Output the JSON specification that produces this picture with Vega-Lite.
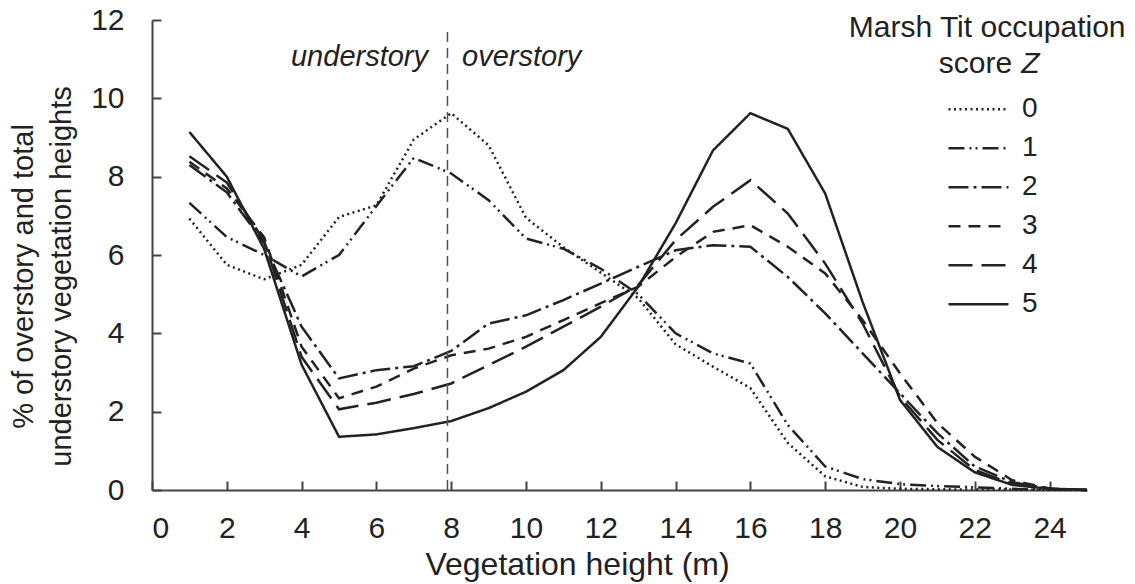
{
  "$schema": "https://vega.github.io/schema/vega-lite/v6.json",
  "width": 935,
  "height": 470,
  "autosize": {"type": "none"},
  "padding": {"left": 152, "top": 20, "right": 48, "bottom": 94},
  "background": "white",
  "config": {
    "font": "Liberation Sans",
    "view": {"stroke": null},
    "axis": {
      "grid": false,
      "domainColor": "#444",
      "domainWidth": 2,
      "tickColor": "#444",
      "tickWidth": 2,
      "labelFont": "Liberation Sans",
      "labelFontSize": 30,
      "labelColor": "#222",
      "titleFont": "Liberation Sans",
      "titleFontSize": 30,
      "titleFontWeight": "normal",
      "titleColor": "#222"
    },
    "legend": {
      "labelFont": "Liberation Sans",
      "labelColor": "#222"
    }
  },
  "datasets": {
    "curves": [
      {"h": 1, "Z": "0", "p": 6.93}, {"h": 2, "Z": "0", "p": 5.75}, {"h": 3, "Z": "0", "p": 5.38}, {"h": 4, "Z": "0", "p": 5.75}, {"h": 5, "Z": "0", "p": 6.97},
      {"h": 6, "Z": "0", "p": 7.27}, {"h": 7, "Z": "0", "p": 8.95}, {"h": 8, "Z": "0", "p": 9.62}, {"h": 9, "Z": "0", "p": 8.8}, {"h": 10, "Z": "0", "p": 6.95},
      {"h": 11, "Z": "0", "p": 6.2}, {"h": 12, "Z": "0", "p": 5.55}, {"h": 13, "Z": "0", "p": 4.9}, {"h": 14, "Z": "0", "p": 3.72}, {"h": 15, "Z": "0", "p": 3.15},
      {"h": 16, "Z": "0", "p": 2.6}, {"h": 17, "Z": "0", "p": 1.2}, {"h": 18, "Z": "0", "p": 0.35}, {"h": 19, "Z": "0", "p": 0.08}, {"h": 20, "Z": "0", "p": 0.03},
      {"h": 21, "Z": "0", "p": 0.02}, {"h": 22, "Z": "0", "p": 0.01}, {"h": 23, "Z": "0", "p": 0.01}, {"h": 24, "Z": "0", "p": 0}, {"h": 25, "Z": "0", "p": 0},

      {"h": 1, "Z": "1", "p": 7.33}, {"h": 2, "Z": "1", "p": 6.46}, {"h": 3, "Z": "1", "p": 6.0}, {"h": 4, "Z": "1", "p": 5.45}, {"h": 5, "Z": "1", "p": 6.0},
      {"h": 6, "Z": "1", "p": 7.25}, {"h": 7, "Z": "1", "p": 8.48}, {"h": 8, "Z": "1", "p": 8.08}, {"h": 9, "Z": "1", "p": 7.4}, {"h": 10, "Z": "1", "p": 6.42},
      {"h": 11, "Z": "1", "p": 6.16}, {"h": 12, "Z": "1", "p": 5.65}, {"h": 13, "Z": "1", "p": 5.0}, {"h": 14, "Z": "1", "p": 4.0}, {"h": 15, "Z": "1", "p": 3.49},
      {"h": 16, "Z": "1", "p": 3.23}, {"h": 17, "Z": "1", "p": 1.66}, {"h": 18, "Z": "1", "p": 0.6}, {"h": 19, "Z": "1", "p": 0.28}, {"h": 20, "Z": "1", "p": 0.15},
      {"h": 21, "Z": "1", "p": 0.1}, {"h": 22, "Z": "1", "p": 0.07}, {"h": 23, "Z": "1", "p": 0.03}, {"h": 24, "Z": "1", "p": 0.01}, {"h": 25, "Z": "1", "p": 0},

      {"h": 1, "Z": "2", "p": 8.3}, {"h": 2, "Z": "2", "p": 7.6}, {"h": 3, "Z": "2", "p": 6.3}, {"h": 4, "Z": "2", "p": 4.17}, {"h": 5, "Z": "2", "p": 2.85},
      {"h": 6, "Z": "2", "p": 3.06}, {"h": 7, "Z": "2", "p": 3.16}, {"h": 8, "Z": "2", "p": 3.55}, {"h": 9, "Z": "2", "p": 4.25}, {"h": 10, "Z": "2", "p": 4.46},
      {"h": 11, "Z": "2", "p": 4.85}, {"h": 12, "Z": "2", "p": 5.27}, {"h": 13, "Z": "2", "p": 5.7}, {"h": 14, "Z": "2", "p": 6.12}, {"h": 15, "Z": "2", "p": 6.25},
      {"h": 16, "Z": "2", "p": 6.21}, {"h": 17, "Z": "2", "p": 5.44}, {"h": 18, "Z": "2", "p": 4.51}, {"h": 19, "Z": "2", "p": 3.49}, {"h": 20, "Z": "2", "p": 2.47},
      {"h": 21, "Z": "2", "p": 1.45}, {"h": 22, "Z": "2", "p": 0.6}, {"h": 23, "Z": "2", "p": 0.2}, {"h": 24, "Z": "2", "p": 0.03}, {"h": 25, "Z": "2", "p": 0},

      {"h": 1, "Z": "3", "p": 8.38}, {"h": 2, "Z": "3", "p": 7.7}, {"h": 3, "Z": "3", "p": 6.45}, {"h": 4, "Z": "3", "p": 3.66}, {"h": 5, "Z": "3", "p": 2.34},
      {"h": 6, "Z": "3", "p": 2.64}, {"h": 7, "Z": "3", "p": 3.1}, {"h": 8, "Z": "3", "p": 3.44}, {"h": 9, "Z": "3", "p": 3.61}, {"h": 10, "Z": "3", "p": 3.91},
      {"h": 11, "Z": "3", "p": 4.34}, {"h": 12, "Z": "3", "p": 4.77}, {"h": 13, "Z": "3", "p": 5.19}, {"h": 14, "Z": "3", "p": 5.95}, {"h": 15, "Z": "3", "p": 6.59},
      {"h": 16, "Z": "3", "p": 6.76}, {"h": 17, "Z": "3", "p": 6.21}, {"h": 18, "Z": "3", "p": 5.53}, {"h": 19, "Z": "3", "p": 4.34}, {"h": 20, "Z": "3", "p": 2.98},
      {"h": 21, "Z": "3", "p": 1.71}, {"h": 22, "Z": "3", "p": 0.85}, {"h": 23, "Z": "3", "p": 0.25}, {"h": 24, "Z": "3", "p": 0.04}, {"h": 25, "Z": "3", "p": 0},

      {"h": 1, "Z": "4", "p": 8.52}, {"h": 2, "Z": "4", "p": 7.85}, {"h": 3, "Z": "4", "p": 6.35}, {"h": 4, "Z": "4", "p": 3.4}, {"h": 5, "Z": "4", "p": 2.06},
      {"h": 6, "Z": "4", "p": 2.23}, {"h": 7, "Z": "4", "p": 2.45}, {"h": 8, "Z": "4", "p": 2.72}, {"h": 9, "Z": "4", "p": 3.19}, {"h": 10, "Z": "4", "p": 3.66},
      {"h": 11, "Z": "4", "p": 4.17}, {"h": 12, "Z": "4", "p": 4.68}, {"h": 13, "Z": "4", "p": 5.23}, {"h": 14, "Z": "4", "p": 6.38}, {"h": 15, "Z": "4", "p": 7.23},
      {"h": 16, "Z": "4", "p": 7.91}, {"h": 17, "Z": "4", "p": 7.06}, {"h": 18, "Z": "4", "p": 5.78}, {"h": 19, "Z": "4", "p": 4.25}, {"h": 20, "Z": "4", "p": 2.38},
      {"h": 21, "Z": "4", "p": 1.28}, {"h": 22, "Z": "4", "p": 0.51}, {"h": 23, "Z": "4", "p": 0.15}, {"h": 24, "Z": "4", "p": 0.03}, {"h": 25, "Z": "4", "p": 0},

      {"h": 1, "Z": "5", "p": 9.14}, {"h": 2, "Z": "5", "p": 8.0}, {"h": 3, "Z": "5", "p": 6.15}, {"h": 4, "Z": "5", "p": 3.2}, {"h": 5, "Z": "5", "p": 1.36},
      {"h": 6, "Z": "5", "p": 1.42}, {"h": 7, "Z": "5", "p": 1.58}, {"h": 8, "Z": "5", "p": 1.76}, {"h": 9, "Z": "5", "p": 2.09}, {"h": 10, "Z": "5", "p": 2.51},
      {"h": 11, "Z": "5", "p": 3.06}, {"h": 12, "Z": "5", "p": 3.91}, {"h": 13, "Z": "5", "p": 5.19}, {"h": 14, "Z": "5", "p": 6.81}, {"h": 15, "Z": "5", "p": 8.67},
      {"h": 16, "Z": "5", "p": 9.62}, {"h": 17, "Z": "5", "p": 9.22}, {"h": 18, "Z": "5", "p": 7.57}, {"h": 19, "Z": "5", "p": 4.8}, {"h": 20, "Z": "5", "p": 2.3},
      {"h": 21, "Z": "5", "p": 1.1}, {"h": 22, "Z": "5", "p": 0.45}, {"h": 23, "Z": "5", "p": 0.13}, {"h": 24, "Z": "5", "p": 0.03}, {"h": 25, "Z": "5", "p": 0}
    ]
  },
  "resolve": {"axis": {"x": "independent", "y": "independent"}},
  "layer": [
    {
      "layer": [
        {
          "data": {"name": "curves"},
          "mark": {"type": "line", "strokeWidth": 2.5, "color": "#222", "strokeCap": "butt"},
          "encoding": {
            "x": {
              "field": "h", "type": "quantitative",
              "scale": {"domain": [0, 25], "nice": false, "zero": false},
              "axis": {
                "values": [0, 2, 4, 6, 8, 10, 12, 14, 16, 18, 20, 22, 24],
                "ticks": false,
                "labelPadding": 47,
                "labelBaseline": "alphabetic",
                "title": "Vegetation height (m)",
                "titleFontSize": 32,
                "titleX": 425,
                "titleY": 84,
                "titleBaseline": "alphabetic",
                "titleAnchor": null,
                "titleAlign": "center"
              }
            },
            "y": {
              "field": "p", "type": "quantitative",
              "scale": {"domain": [0, 12], "nice": false},
              "axis": {
                "values": [0, 2, 4, 6, 8, 10, 12],
                "ticks": false,
                "labelPadding": 28,
                "title": ["% of overstory and total", "understory vegetation heights"],
                "titleFontSize": 29,
                "titleLineHeight": 38,
                "titleBaseline": "middle",
                "titleAlign": "center",
                "titleAngle": -90,
                "titleX": -129,
                "titleY": 256
              }
            },
            "strokeDash": {
              "field": "Z", "type": "nominal",
              "scale": {
                "domain": ["0", "1", "2", "3", "4", "5"],
                "range": [[2, 3.5], [16, 5, 2, 4, 2, 5], [20, 5, 3, 5], [12, 8], [24, 9], [1, 0]]
              },
              "legend": {
                "orient": "none",
                "legendX": 795,
                "legendY": 71,
                "title": null,
                "symbolType": "stroke",
                "symbolSize": 3600,
                "symbolStrokeWidth": 2.5,
                "symbolStrokeColor": "#222",
                "labelFontSize": 28,
                "labelOffset": 12,
                "clipHeight": 36.4,
                "rowPadding": 2,
                "padding": 0
              }
            }
          }
        },
        {
          "data": {"values": [{}]},
          "mark": {"type": "rule", "color": "#555", "strokeWidth": 1.5, "strokeDash": [10, 6]},
          "encoding": {
            "x": {"datum": 7.9},
            "y": {"datum": 0},
            "y2": {"datum": 11.7}
          }
        },
        {
          "data": {"values": [{}]},
          "mark": {"type": "text", "align": "right", "baseline": "alphabetic", "fontStyle": "italic", "fontSize": 29, "color": "#222", "font": "Liberation Sans"},
          "encoding": {"x": {"datum": 7.38}, "y": {"datum": 10.82}, "text": {"value": "understory"}}
        },
        {
          "data": {"values": [{}]},
          "mark": {"type": "text", "align": "left", "baseline": "alphabetic", "fontStyle": "italic", "fontSize": 29, "color": "#222", "font": "Liberation Sans"},
          "encoding": {"x": {"datum": 8.29}, "y": {"datum": 10.82}, "text": {"value": "overstory"}}
        },
        {
          "data": {"values": [{}]},
          "mark": {"type": "text", "align": "center", "baseline": "alphabetic", "fontSize": 30, "color": "#222", "font": "Liberation Sans"},
          "encoding": {"x": {"datum": 22.33}, "y": {"datum": 11.56}, "text": {"value": "Marsh Tit occupation"}}
        },
        {
          "data": {"values": [{}]},
          "mark": {"type": "text", "align": "right", "baseline": "alphabetic", "fontSize": 30, "color": "#222", "font": "Liberation Sans"},
          "encoding": {"x": {"datum": 23.0}, "y": {"datum": 10.64}, "text": {"value": "score"}}
        },
        {
          "data": {"values": [{}]},
          "mark": {"type": "text", "align": "left", "baseline": "alphabetic", "fontStyle": "italic", "fontSize": 30, "color": "#222", "font": "Liberation Sans"},
          "encoding": {"x": {"datum": 23.24}, "y": {"datum": 10.64}, "text": {"value": "Z"}}
        }
      ]
    },
    {
      "data": {"name": "curves"},
      "mark": {"type": "point", "opacity": 0},
      "encoding": {
        "x": {
          "field": "h", "type": "quantitative",
          "scale": {"domain": [0, 25], "nice": false, "zero": false},
          "axis": {"orient": "bottom", "offset": -9, "tickSize": 9, "domain": false, "labels": false, "title": null, "values": [0, 2, 4, 6, 8, 10, 12, 14, 16, 18, 20, 22, 24]}
        },
        "y": {
          "field": "p", "type": "quantitative",
          "scale": {"domain": [0, 12], "nice": false},
          "axis": {"orient": "left", "offset": -9, "tickSize": 9, "domain": false, "labels": false, "title": null, "values": [0, 2, 4, 6, 8, 10, 12]}
        }
      }
    }
  ]
}
